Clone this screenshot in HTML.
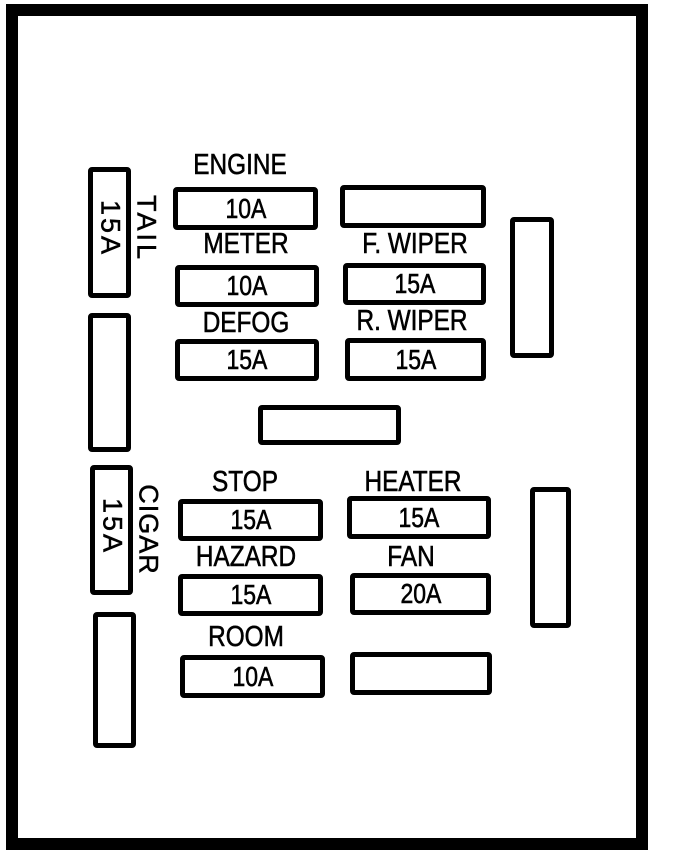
<!DOCTYPE html>
<html><head><meta charset="utf-8"><style>
body{margin:0;background:#fff;width:688px;height:868px;position:relative;overflow:hidden;font-family:"Liberation Sans",sans-serif;color:#000}
.f{position:absolute;border:5px solid #000;border-radius:4px;box-sizing:border-box;display:flex;align-items:center;justify-content:center}
.v{font-size:28px;transform:scaleX(0.82);line-height:1;-webkit-text-stroke:0.6px #000}
.l{position:absolute;font-size:29px;line-height:1;transform:scaleX(0.84);width:200px;text-align:center;margin-left:-100px;-webkit-text-stroke:0.6px #000}
.r{position:absolute;font-size:27px;line-height:1;transform:rotate(90deg);white-space:nowrap;transform-origin:center;letter-spacing:3px;-webkit-text-stroke:0.5px #000}
</style></head><body>
<div style="position:absolute;left:6px;top:4px;width:642px;height:846px;border:12px solid #000;box-sizing:border-box"></div>

<div class="f" style="left:88px;top:167px;width:43px;height:131px"></div>
<div class="r" style="left:70px;top:215px;width:80px;text-align:center">15A</div>
<div class="r" style="left:106px;top:215px;width:80px;text-align:center">TAIL</div>
<div class="f" style="left:88px;top:313px;width:43px;height:139px"></div>
<div class="f" style="left:90px;top:465px;width:43px;height:130px"></div>
<div class="r" style="left:72px;top:513px;width:80px;text-align:center">15A</div>
<div class="r" style="left:100px;top:516px;width:96px;text-align:center;letter-spacing:1px">CIGAR</div>
<div class="f" style="left:93px;top:612px;width:43px;height:136px"></div>

<div class="l" style="left:240px;top:151px">ENGINE</div>
<div class="f" style="left:173px;top:187px;width:145px;height:43px"><span class="v">10A</span></div>
<div class="f" style="left:340px;top:185px;width:146px;height:43px"></div>

<div class="l" style="left:246px;top:230px">METER</div>
<div class="f" style="left:175px;top:265px;width:144px;height:42px"><span class="v">10A</span></div>
<div class="l" style="left:415px;top:230px">F. WIPER</div>
<div class="f" style="left:343px;top:263px;width:143px;height:42px"><span class="v">15A</span></div>

<div class="l" style="left:246px;top:309px">DEFOG</div>
<div class="f" style="left:175px;top:339px;width:144px;height:42px"><span class="v">15A</span></div>
<div class="l" style="left:412px;top:307px">R. WIPER</div>
<div class="f" style="left:345px;top:338px;width:141px;height:43px"><span class="v">15A</span></div>

<div class="f" style="left:258px;top:405px;width:143px;height:40px"></div>

<div class="l" style="left:245px;top:468px">STOP</div>
<div class="f" style="left:178px;top:499px;width:145px;height:42px"><span class="v">15A</span></div>
<div class="l" style="left:413px;top:468px">HEATER</div>
<div class="f" style="left:347px;top:496px;width:144px;height:43px"><span class="v">15A</span></div>

<div class="l" style="left:246px;top:543px">HAZARD</div>
<div class="f" style="left:178px;top:574px;width:145px;height:42px"><span class="v">15A</span></div>
<div class="l" style="left:411px;top:543px">FAN</div>
<div class="f" style="left:350px;top:573px;width:141px;height:42px"><span class="v">20A</span></div>

<div class="l" style="left:246px;top:623px">ROOM</div>
<div class="f" style="left:180px;top:655px;width:145px;height:43px"><span class="v">10A</span></div>
<div class="f" style="left:350px;top:652px;width:142px;height:43px"></div>

<div class="f" style="left:510px;top:217px;width:44px;height:141px"></div>
<div class="f" style="left:530px;top:487px;width:41px;height:141px"></div>
</body></html>
